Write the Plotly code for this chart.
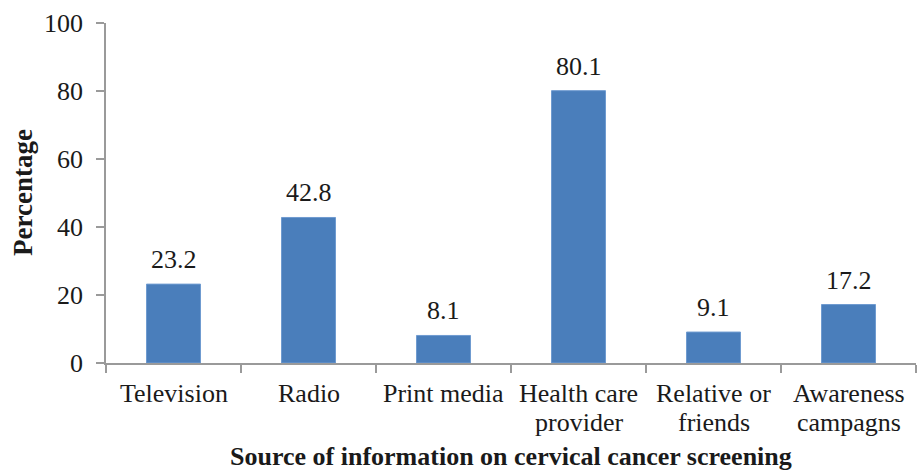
import plotly.graph_objects as go

categories = ["Television", "Radio", "Print media", "Health care provider",
              "Relative or friends", "Awareness campagns"]
label_line1 = ["Television", "Radio", "Print media", "Health care", "Relative or", "Awareness"]
label_line2 = ["", "", "", "provider", "friends", "campagns"]
values = [23.2, 42.8, 8.1, 80.1, 9.1, 17.2]
y_ticks = [0, 20, 40, 60, 80, 100]

font_family = "Liberation Serif"
axis_color = "#9a9a9a"
text_color = "#1a1a1a"

fig = go.Figure(go.Bar(
    x=categories, y=values,
    marker=dict(color="#4A7EBB", line=dict(color="#6f9bd0", width=1)),
    hoverinfo="x+y",
))

annotations = []
for c, v in zip(categories, values):
    annotations.append(dict(x=c, y=v, xref="x", yref="y", text=f"{v:.1f}",
                            showarrow=False, yanchor="bottom", yshift=8,
                            font=dict(family=font_family, size=26, color=text_color)))
for c, l1, l2 in zip(categories, label_line1, label_line2):
    annotations.append(dict(x=c, y=0, xref="x", yref="paper", text=l1,
                            showarrow=False, yanchor="top", yshift=-14,
                            font=dict(family=font_family, size=26, color=text_color)))
    if l2:
        annotations.append(dict(x=c, y=0, xref="x", yref="paper", text=l2,
                                showarrow=False, yanchor="top", yshift=-43,
                                font=dict(family=font_family, size=26, color=text_color)))
annotations.append(dict(x=0.5, y=0, xref="paper", yref="paper",
                        text="<b>Source of information on cervical cancer screening</b>",
                        showarrow=False, yanchor="top", yshift=-77,
                        font=dict(family=font_family, size=26, color=text_color)))
annotations.append(dict(x=0, y=0.5, xref="paper", yref="paper",
                        text="<b>Percentage</b>", textangle=-90,
                        showarrow=False, xanchor="center", xshift=-83,
                        font=dict(family=font_family, size=27, color=text_color)))

fig.update_layout(
    width=921, height=474,
    margin=dict(l=106, r=5, t=23, b=111, autoexpand=False),
    plot_bgcolor="white", paper_bgcolor="white",
    bargap=0.6,
    showlegend=False,
    font=dict(family=font_family, size=26, color=text_color),
    annotations=annotations,
)
fig.update_yaxes(
    range=[0, 100], tickvals=y_ticks, showgrid=False, zeroline=False,
    showline=True, linecolor=axis_color, linewidth=1.5,
    ticks="outside", ticklen=8, tickcolor=axis_color, tickwidth=1.5,
    ticklabelstandoff=8, automargin=False,
    tickfont=dict(family=font_family, size=26, color=text_color),
)
fig.update_xaxes(
    showgrid=False, showline=True, linecolor=axis_color, linewidth=1.5,
    ticks="outside", tickson="boundaries", ticklen=8, tickcolor=axis_color, tickwidth=1.5,
    showticklabels=False, automargin=False,
)

fig.write_html("out.html", config={"displayModeBar": False},
               post_script="document.body.style.margin='0';")
